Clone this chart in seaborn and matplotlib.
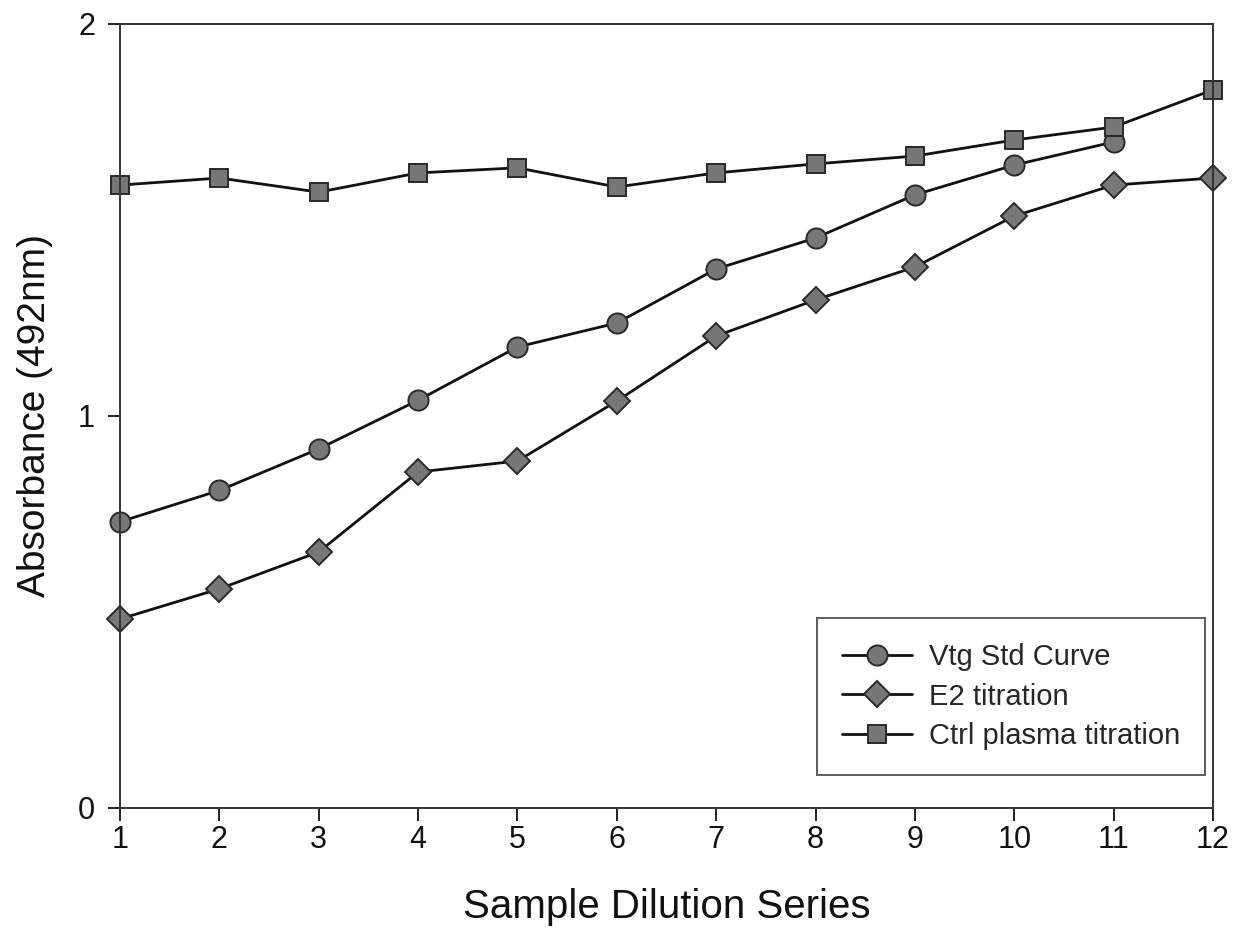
import matplotlib
matplotlib.use("Agg")
import matplotlib.pyplot as plt
import seaborn as sns
import pandas as pd

dilution = list(range(1, 13))
vtg_std = [0.73, 0.81, 0.916, 1.04, 1.176, 1.237, 1.375, 1.454, 1.564, 1.64, 1.699]
e2_titr = [0.482, 0.559, 0.653, 0.857, 0.885, 1.038, 1.204, 1.296, 1.38, 1.51, 1.589, 1.607]
ctrl_titr = [1.589, 1.607, 1.571, 1.62, 1.633, 1.584, 1.62, 1.643, 1.663, 1.704, 1.737, 1.832]

df = pd.concat([
    pd.DataFrame({"x": dilution[:len(vtg_std)], "y": vtg_std, "series": "Vtg Std Curve"}),
    pd.DataFrame({"x": dilution, "y": e2_titr, "series": "E2 titration"}),
    pd.DataFrame({"x": dilution, "y": ctrl_titr, "series": "Ctrl plasma titration"}),
])

sns.set_theme(style="white")
plt.rcParams["font.family"] = ["Liberation Sans", "DejaVu Sans"]

fig = plt.figure(figsize=(12.41, 9.36), dpi=100)
ax = fig.add_axes([0.0967, 0.1368, 0.8807, 0.8376])

markers = {"Vtg Std Curve": "o", "E2 titration": "D", "Ctrl plasma titration": "s"}
sizes = {"Vtg Std Curve": 14.5, "E2 titration": 13.5, "Ctrl plasma titration": 13}
for name, sub in df.groupby("series", sort=False):
    sns.lineplot(data=sub, x="x", y="y", ax=ax, color="#111111", linewidth=2.0,
                 marker=markers[name], markersize=sizes[name], markerfacecolor="#777777",
                 markeredgecolor="#2a2a2a", markeredgewidth=1.4, label=name, clip_on=False)

ax.set_xlim(1, 12)
ax.set_ylim(0, 2)
ax.set_xticks(dilution)
ax.set_yticks([0, 1, 2])
ax.tick_params(axis="both", direction="out", length=9, width=1.3, labelsize=22,
               bottom=True, left=True, colors="#111111")
ax.tick_params(axis="x", pad=3)
ax.tick_params(axis="y", pad=9)
for s in ax.spines.values():
    s.set_color("#333333")
    s.set_linewidth(1.4)

ax.set_xlabel("Sample Dilution Series", fontsize=29, labelpad=24, color="#111111")
ax.set_ylabel("Absorbance (492nm)", fontsize=28, labelpad=18, color="#111111")

# legend box sits a little above the bottom axis, lower right
leg = ax.legend(loc="lower right", bbox_to_anchor=(0.993, 0.042), fontsize=21, frameon=True,
                fancybox=False, edgecolor="#333333", handlelength=2.4, handletextpad=0.6,
                borderpad=0.85, labelspacing=0.4, borderaxespad=0)
leg.get_frame().set_linewidth(1.4)

fig.savefig("out.png", dpi=100)
